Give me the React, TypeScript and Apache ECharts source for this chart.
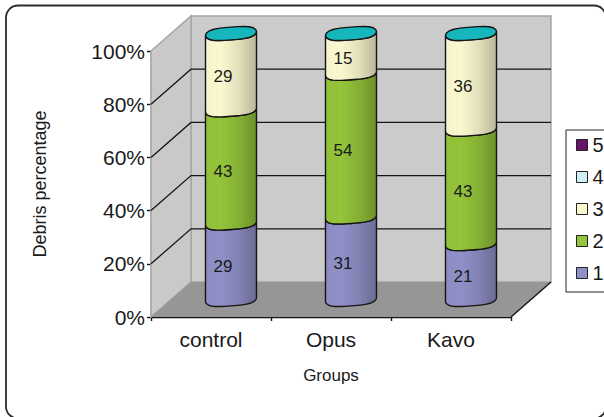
import React, { useEffect, useRef } from "react";
import * as echarts from "echarts";

const categories = ["control", "Opus", "Kavo"];
const values1 = [29, 31, 21];
const values2 = [43, 54, 43];
const values3 = [29, 15, 36];
const values4 = [0, 0, 0];
const values5 = [0, 0, 0];
const stacks = [values1, values2, values3, values4, values5];
const seriesNames = ["1", "2", "3", "4", "5"];
const seriesColors = ["#9090c8", "#94c43a", "#fbf8d0", "#cfeef5", "#66146a"];
const yTicks = [0, 20, 40, 60, 80, 100];
const FONT = "Liberation Sans";
const DX = 40;
const DY = -35;
const RX = 25.5;
const RY = 7;
const TILT = -0.075;

const shade = (hex: string, f: number) => {
  const n = parseInt(hex.slice(1), 16);
  const c = [n >> 16, (n >> 8) & 255, n & 255].map((v) => Math.round(v * f));
  return `rgb(${c[0]},${c[1]},${c[2]})`;
};

const bodyFill = (color: string) => ({
  type: "linear", x: 0, y: 0, x2: 1, y2: 0,
  colorStops: [
    { offset: 0, color: shade(color, 0.98) },
    { offset: 0.3, color: shade(color, 1) },
    { offset: 0.65, color: shade(color, 0.9) },
    { offset: 1, color: shade(color, 0.74) },
  ],
});

const ellipsePts = (cx: number, cy: number, from: number, to: number) => {
  const pts: number[][] = [];
  const n = 24;
  for (let i = 0; i <= n; i++) {
    const t = from + ((to - from) * i) / n;
    const x = RX * Math.cos(t);
    const y = RY * Math.sin(t) + TILT * x + 0.6 * Math.sin(3 * t);
    pts.push([cx + x, cy + y]);
  }
  return pts;
};

const cylinderItem = (si: number) => (params: any, api: any) => {
  const cat = api.value(0);
  const total = stacks.reduce((s, a) => s + a[cat], 0);
  const base = stacks.slice(0, si).reduce((s, a) => s + a[cat], 0);
  const v = stacks[si][cat];
  if (!v) return { type: "group", children: [] };
  const lo = api.coord([cat, (base / total) * 100]);
  const hi = api.coord([cat, ((base + v) / total) * 100]);
  const cx = lo[0];
  const pts = [
    ...ellipsePts(cx, lo[1], 0, Math.PI),
    ...ellipsePts(cx, hi[1], Math.PI, 0),
  ];
  const children: any[] = [
    {
      type: "polygon",
      shape: { points: pts },
      style: { fill: bodyFill(seriesColors[si]), stroke: "#141414", lineWidth: 1.4 },
    },
    {
      type: "text",
      x: cx - 8,
      y: (lo[1] + hi[1]) / 2 + 5,
      style: {
        text: String(v), fontSize: 17, fontFamily: FONT, fill: "#1a1a1a",
        align: "center", verticalAlign: "middle",
      },
    },
  ];
  const top = stacks.slice(si + 1).every((a) => !a[cat]);
  if (top) {
    children.push({
      type: "polygon",
      shape: { points: ellipsePts(cx, hi[1], 0, Math.PI * 2) },
      style: { fill: "#16b6bd", stroke: "#141414", lineWidth: 1.4 },
    });
  }
  return { type: "group", children };
};

const wallsItem = (params: any, api: any) => {
  const cs = params.coordSys;
  const v = api.value(1);
  const p = api.coord([0, v]);
  const x0 = cs.x;
  const x1 = cs.x + cs.width;
  const y0 = cs.y + cs.height;
  const children: any[] = [];
  if (params.dataIndex === 0) {
    children.push(
      {
        type: "polygon",
        shape: { points: [[x0 + DX, cs.y + DY], [x1 + DX, cs.y + DY], [x1 + DX, y0 + DY], [x0 + DX, y0 + DY]] },
        style: { fill: "#cbcbcb", stroke: "#a6a6a6", lineWidth: 1.5 },
      },
      {
        type: "polygon",
        shape: { points: [[x0, cs.y], [x0 + DX, cs.y + DY], [x0 + DX, y0 + DY], [x0, y0]] },
        style: { fill: "#c9c9c9", stroke: "#a6a6a6", lineWidth: 1.5 },
      },
      {
        type: "polygon",
        shape: { points: [[x0, y0], [x0 + DX, y0 + DY], [x1 + DX, y0 + DY], [x1, y0]] },
        style: { fill: "#969696" },
      },
      {
        type: "polyline",
        shape: { points: [[x1, y0], [x1 + DX, y0 + DY]] },
        style: { stroke: "#141414", lineWidth: 1.4, fill: "none" },
      },
    );
  }
  if (v > 0 && v < 100) {
    children.push({
      type: "polyline",
      shape: {
        points: [[x0, p[1]], [x0 + DX, p[1] + DY], [x1 + DX, p[1] + DY]],
      },
      style: { stroke: "#141414", lineWidth: 1.3, fill: "none" },
    });
  }
  return { type: "group", children };
};

const axisBase = {
  axisLine: { show: true, lineStyle: { color: "#141414", width: 1.4 } },
  axisTick: { show: true, length: 4, lineStyle: { color: "#141414", width: 1.4 } },
};

export default function App() {
  const ref = useRef<HTMLDivElement>(null);
  useEffect(() => {
    document.body.style.margin = "0";
    document.body.style.background = "#fff";
    const chart = echarts.init(ref.current!, undefined, { renderer: "svg" });
    const catData = categories.map((c, i) => [i]);
    chart.setOption({
      animation: false,
      backgroundColor: "#ffffff",
      textStyle: { fontFamily: FONT },
      graphic: [
        {
          type: "rect",
          shape: { x: 6, y: 5.5, width: 600, height: 413, r: 12 },
          style: { fill: "none", stroke: "#2b2b2b", lineWidth: 1.8 },
          z: 100,
        },
      ],
      legend: {
        orient: "vertical",
        left: 566,
        top: 130,
        padding: [5, 30, 9, 10],
        data: ["5", "4", "3", "2", "1"],
        icon: "rect",
        itemWidth: 11,
        itemHeight: 11,
        itemGap: 12,
        borderColor: "#222",
        borderWidth: 1,
        backgroundColor: "#fff",
        itemStyle: { borderColor: "#222", borderWidth: 1 },
        textStyle: { fontSize: 20, lineHeight: 20, color: "#1a1a1a", fontFamily: FONT },
        selectedMode: false,
      },
      grid: [
        { left: 151, top: 51, width: 360, height: 266 },
        { left: 171, top: 33.5, width: 360, height: 266 },
      ],
      xAxis: [
        {
          ...axisBase,
          gridIndex: 0,
          type: "category",
          data: categories,
          axisLabel: { fontSize: 21, color: "#1a1a1a", fontFamily: FONT, margin: 12 },
          name: "Groups",
          nameLocation: "middle",
          nameGap: 50,
          nameTextStyle: { fontSize: 17, color: "#1a1a1a", fontFamily: FONT },
        },
        { gridIndex: 1, type: "category", data: categories, show: false },
      ],
      yAxis: [
        {
          ...axisBase,
          gridIndex: 0,
          type: "value",
          min: 0,
          max: 100,
          interval: 20,
          splitLine: { show: false },
          axisLabel: { formatter: "{value}%", fontSize: 21, color: "#1a1a1a", fontFamily: FONT, margin: 6 },
          name: "Debris percentage",
          nameLocation: "middle",
          nameGap: 102,
          nameRotate: 90,
          nameTextStyle: { fontSize: 18, color: "#1a1a1a", fontFamily: FONT },
        },
        { gridIndex: 1, type: "value", min: 0, max: 100, show: false, splitLine: { show: false } },
      ],
      series: [
        {
          type: "custom",
          name: "walls",
          xAxisIndex: 0,
          yAxisIndex: 0,
          z: 1,
          silent: true,
          renderItem: wallsItem,
          data: yTicks.map((t) => [0, t]),
          encode: { x: 0, y: 1 },
          clip: false,
        },
        ...seriesNames.map((name, si) => ({
          type: "custom",
          name,
          xAxisIndex: 1,
          yAxisIndex: 1,
          z: 3 + si,
          itemStyle: { color: seriesColors[si] },
          renderItem: cylinderItem(si),
          data: catData,
          encode: { x: 0 },
          clip: false,
        })),
      ],
    } as any);
    return () => chart.dispose();
  }, []);
  return <div ref={ref} style={{ width: 604, height: 417 }} />;
}
